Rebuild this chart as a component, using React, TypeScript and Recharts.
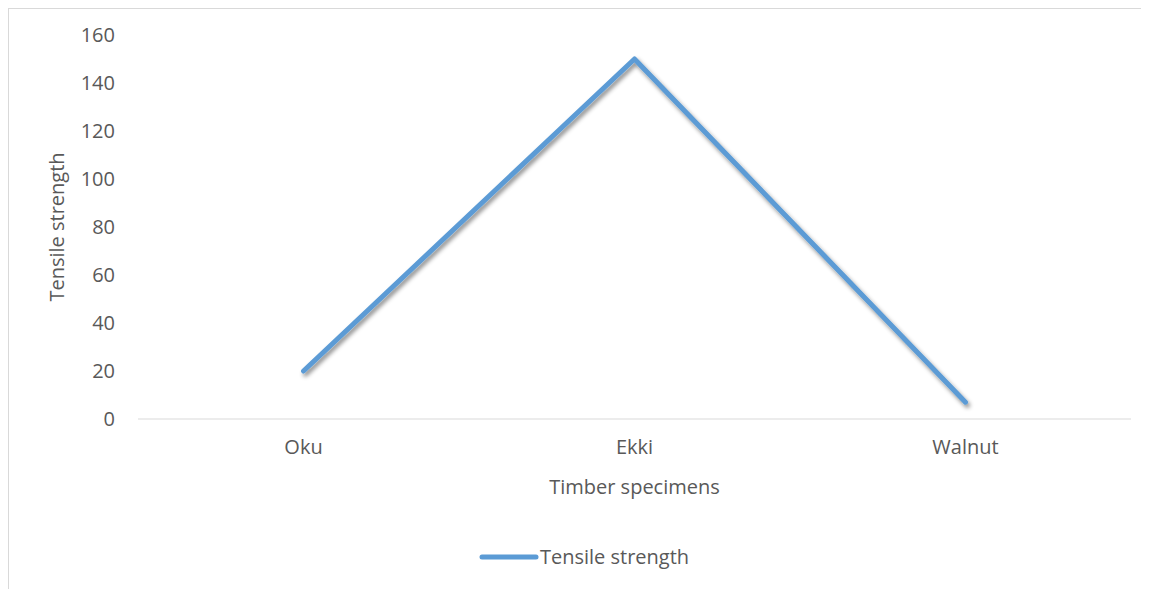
import React from 'react';
import { LineChart, Line, XAxis, YAxis, Legend } from 'recharts';

const specimens = ['Oku', 'Ekki', 'Walnut'];
const tensileStrength = [20, 150, 7];
const yTicks = [0, 20, 40, 60, 80, 100, 120, 140, 160];

const data = specimens.map((name, i) => ({ name, strength: tensileStrength[i] }));

const textColor = '#595959';
const lineColor = '#5B9BD5';
const font = '"Open Sans", "Liberation Sans", sans-serif';

const LegendContent = () => (
  <div style={{ display: 'flex', justifyContent: 'center', alignItems: 'center', paddingLeft: 28, fontFamily: font, fontSize: 20, color: textColor }}>
    <svg width={60} height={10} style={{ marginRight: 1 }}>
      <line x1={3} y1={5} x2={57} y2={5} stroke={lineColor} strokeWidth={5} strokeLinecap="round" />
    </svg>
    <span>Tensile strength</span>
  </div>
);

const App: React.FC = () => {
  return (
    <div style={{ width: 1141, height: 581, marginLeft: -1, marginTop: -1, borderLeft: '2px solid #d9d9d9', borderTop: '2px solid #d9d9d9', background: '#fff' }}>
      <LineChart width={1141} height={581} data={data} margin={{ top: 26, right: 19, left: 0, bottom: 0 }}>
        <defs>
          <filter id="lineShadow" x="-10%" y="-10%" width="120%" height="130%">
            <feDropShadow dx={2} dy={3} stdDeviation={2} floodColor="#000" floodOpacity={0.45} />
          </filter>
        </defs>
        <XAxis
          dataKey="name"
          scale="band"
          stroke="#d9d9d9"
          tickLine={false}
          tickSize={0}
          tickMargin={21}
          height={124}
          tick={{ fill: textColor, fontSize: 20, fontFamily: font }}
          label={{ value: 'Timber specimens', position: 'center', dy: 6, fill: textColor, fontSize: 20, fontFamily: font }}
        />
        <YAxis
          domain={[0, 160]}
          ticks={yTicks}
          width={129}
          axisLine={false}
          tickLine={false}
          tickSize={0}
          tickMargin={23}
          tick={{ fill: textColor, fontSize: 20, fontFamily: font }}
          label={{ value: 'Tensile strength', angle: -90, position: 'center', dx: -17, fill: textColor, fontSize: 20, fontFamily: font }}
        />
        <Legend verticalAlign="bottom" height={47} content={<LegendContent />} />
        <Line
          type="linear"
          dataKey="strength"
          stroke={lineColor}
          strokeWidth={5}
          strokeLinecap="round"
          strokeLinejoin="round"
          dot={false}
          activeDot={false}
          filter="url(#lineShadow)"
          isAnimationActive={false}
        />
      </LineChart>
    </div>
  );
};

export default App;
